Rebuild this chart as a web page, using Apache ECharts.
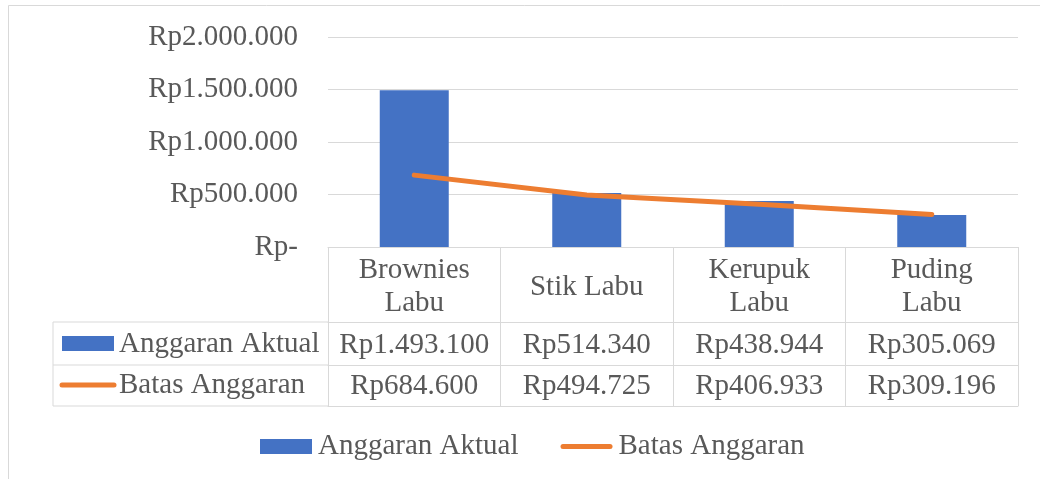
<!DOCTYPE html>
<html>
<head>
<meta charset="utf-8">
<script src="https://cdn.jsdelivr.net/npm/echarts@6/dist/echarts.min.js"></script>
<style>
html,body{margin:0;padding:0;background:#fff;}
#chart{width:1040px;height:479px;}
</style>
</head>
<body>
<div id="chart"></div>
<script>
// ---- data ----
const categories = ['Brownies\nLabu', 'Stik Labu', 'Kerupuk\nLabu', 'Puding\nLabu'];
const seriesNames = ['Anggaran Aktual', 'Batas Anggaran'];
const anggaranAktual = [1493100, 514340, 438944, 305069];
const batasAnggaran = [684600, 494725, 406933, 309196];
const yMin = 0, yMax = 2000000, yInterval = 500000;

// ---- style ----
const FONT = 'Liberation Serif';
const FS = 29;
const TXT = '#595959';
const GRID = '#d9d9d9';
const BLUE = '#4472c4';
const ORANGE = '#ed7d31';

function rp(v) {
  if (v === 0) return 'Rp-';
  return 'Rp' + String(v).replace(/\B(?=(\d{3})+(?!\d))/g, '.');
}

const chart = echarts.init(document.getElementById('chart'), null, {renderer: 'canvas'});

const gridLeft = 328, gridRight = 1018, gridTop = 37, gridBottomY = 247;
const row1Y = 322, row2Y = 365, row3Y = 406;
const tableLeft = 53;

const baseLabel = {color: TXT, fontFamily: FONT, fontSize: FS, verticalAlign: 'middle'};
const lineIcon = 'path://M2.5,0 L49.5,0 A2.5,2.5 0 0 1 49.5,5 L2.5,5 A2.5,2.5 0 0 1 2.5,0 Z';

const option = {
  animation: false,
  backgroundColor: '#fff',
  grid: {left: gridLeft, right: 1040 - gridRight, top: gridTop, bottom: 479 - gridBottomY, containLabel: false},
  xAxis: [
    {
      type: 'category', data: categories, position: 'bottom', offset: 0,
      axisLine: {show: true, lineStyle: {color: GRID, width: 1}},
      axisTick: {show: true, length: row3Y - gridBottomY, lineStyle: {color: GRID, width: 1}},
      axisLabel: Object.assign({}, baseLabel, {margin: 40, lineHeight: 33, interval: 0, align: 'center'})
    },
    {
      type: 'category', data: categories, position: 'bottom', offset: row1Y - gridBottomY,
      axisLine: {show: true, lineStyle: {color: GRID, width: 1}},
      axisTick: {show: false},
      axisLabel: Object.assign({}, baseLabel, {margin: 23, interval: 0,
        formatter: (v, i) => rp(anggaranAktual[i])})
    },
    {
      type: 'category', data: categories, position: 'bottom', offset: row2Y - gridBottomY,
      axisLine: {show: true, lineStyle: {color: GRID, width: 1}},
      axisTick: {show: false},
      axisLabel: Object.assign({}, baseLabel, {margin: 21, interval: 0,
        formatter: (v, i) => rp(batasAnggaran[i])})
    },
    {
      type: 'category', data: categories, position: 'bottom', offset: row3Y - gridBottomY,
      axisLine: {show: true, lineStyle: {color: GRID, width: 1}},
      axisTick: {show: false},
      axisLabel: {show: false}
    }
  ],
  yAxis: {
    type: 'value', min: yMin, max: yMax, interval: yInterval,
    axisLine: {show: false}, axisTick: {show: false},
    splitLine: {show: true, lineStyle: {color: GRID, width: 1}},
    axisLabel: {color: TXT, fontFamily: FONT, fontSize: FS, margin: 30, formatter: v => rp(v)}
  },
  legend: {
    left: 260, top: 432, padding: 0,
    itemWidth: 52, itemHeight: 15, itemGap: 42,
    textStyle: {color: TXT, fontFamily: FONT, fontSize: FS, padding: [0, 0, 0, 1]},
    data: [
      {name: seriesNames[0], icon: 'rect', itemStyle: {color: BLUE}},
      {name: seriesNames[1], icon: lineIcon, itemStyle: {color: ORANGE, borderWidth: 0}}
    ]
  },
  series: [
    {
      name: seriesNames[0], type: 'bar', data: anggaranAktual, xAxisIndex: 0,
      barWidth: '40%', itemStyle: {color: BLUE}, z: 2
    },
    {
      name: seriesNames[1], type: 'line', data: batasAnggaran, xAxisIndex: 0,
      symbol: 'none', showSymbol: false,
      lineStyle: {color: ORANGE, width: 5, cap: 'round'}, itemStyle: {color: ORANGE}, z: 3
    }
  ],
  graphic: [
    {type: 'rect', silent: true, shape: {x: 8.5, y: 5.5, width: 1100, height: 600},
      style: {fill: 'none', stroke: GRID, lineWidth: 1}},
    {type: 'line', silent: true, shape: {x1: tableLeft, y1: row1Y, x2: gridLeft, y2: row1Y}, style: {stroke: GRID, lineWidth: 1}},
    {type: 'line', silent: true, shape: {x1: tableLeft, y1: row2Y, x2: gridLeft, y2: row2Y}, style: {stroke: GRID, lineWidth: 1}},
    {type: 'line', silent: true, shape: {x1: tableLeft, y1: row3Y, x2: gridLeft, y2: row3Y}, style: {stroke: GRID, lineWidth: 1}},
    {type: 'line', silent: true, shape: {x1: tableLeft, y1: row1Y, x2: tableLeft, y2: row3Y}, style: {stroke: GRID, lineWidth: 1}},
    {type: 'rect', silent: true, shape: {x: 62, y: 336, width: 52, height: 15}, style: {fill: BLUE}},
    {type: 'line', silent: true, shape: {x1: 62, y1: 385, x2: 114, y2: 385}, style: {stroke: ORANGE, lineWidth: 5, lineCap: 'round'}},
    {type: 'text', silent: true, x: 119, y: (row1Y + row2Y) / 2 + 1,
      style: {text: seriesNames[0], fill: TXT, font: FS + 'px "' + FONT + '"', verticalAlign: 'middle', align: 'left'}},
    {type: 'text', silent: true, x: 119, y: (row2Y + row3Y) / 2,
      style: {text: seriesNames[1], fill: TXT, font: FS + 'px "' + FONT + '"', verticalAlign: 'middle', align: 'left'}}
  ]
};

chart.setOption(option);
</script>
</body>
</html>
